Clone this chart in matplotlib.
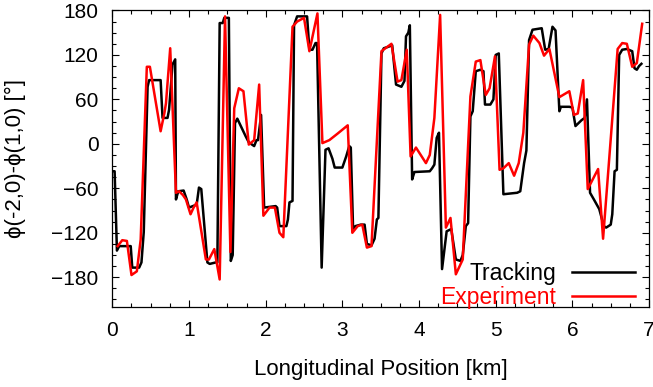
import matplotlib
matplotlib.use('Agg')
import matplotlib.pyplot as plt
from matplotlib.ticker import MultipleLocator

plt.rcParams['font.family'] = ['Liberation Sans', 'DejaVu Sans']

# Tracking (black)
track_km = [0.00, 0.03, 0.06, 0.09, 0.24, 0.26, 0.35, 0.38, 0.41, 0.46, 0.48, 0.63,
            0.655, 0.72, 0.74, 0.785, 0.82, 0.83, 0.86, 0.93, 0.97, 1.00, 1.05, 1.10,
            1.13, 1.16, 1.24, 1.27, 1.35, 1.37, 1.40, 1.44, 1.46, 1.52, 1.545, 1.57,
            1.60, 1.63, 1.74, 1.78, 1.85, 1.88, 1.90, 1.94, 1.98, 2.13, 2.15, 2.18,
            2.27, 2.29, 2.31, 2.35, 2.37, 2.41, 2.54, 2.57, 2.61, 2.65, 2.67, 2.73,
            2.78, 2.82, 2.87, 2.90, 3.00, 3.05, 3.09, 3.11, 3.14, 3.17, 3.24, 3.29,
            3.32, 3.38, 3.42, 3.45, 3.47, 3.51, 3.54, 3.60, 3.65, 3.70, 3.77, 3.81,
            3.83, 3.86, 3.88, 3.91, 3.94, 4.14, 4.17, 4.20, 4.23, 4.26, 4.30, 4.36,
            4.42, 4.48, 4.54, 4.57, 4.61, 4.64, 4.67, 4.70, 4.74, 4.80, 4.84, 4.86,
            4.93, 4.97, 5.00, 5.04, 5.10, 5.28, 5.32, 5.37, 5.40, 5.435, 5.48, 5.60,
            5.645, 5.69, 5.74, 5.78, 5.83, 5.85, 5.96, 6.00, 6.04, 6.08, 6.12, 6.16,
            6.19, 6.23, 6.28, 6.35, 6.41, 6.44, 6.50, 6.52, 6.55, 6.58, 6.61, 6.65,
            6.71, 6.78, 6.81, 6.84, 6.87, 6.90]
track_deg = [-37, -37, -144, -138, -138, -167, -167, -160, -119, 77, 86, 86,
             35, 35, 46, 107, 114, -75, -64, -63, -75, -86, -84, -82,
             -59, -61, -160, -162, -160, -160, 163, 163, 170, 170, -158, -150,
             28, 34, 10, 2, -3, 5, 5, 39, -86, -84, -86, -111,
             -111, -102, -79, -77, 160, 172, 172, 127, 127, 136, 136, -167,
             -8, -6, -20, -32, -32, -17, -3, -5, -115, -111, -109, -109,
             -135, -137, -128, -102, -100, 122, 129, 131, 133, 80, 77, 85,
             145, 150, 160, -48, -38, -37, -33, -28, 8, 15, -169, -118,
             -115, -156, -158, -150, -111, -107, 37, 44, 98, 100, 98, 53,
             53, 60, 120, 122, -68, -66, -64, -26, -9, 140, 154, 156,
             127, 128, 158, 153, 44, 50, 50, 49, 24, 28, 32, 35,
             60, -66, -75, -88, -111, -113, -109, -95, -37, -35, 120, 127,
             128, 125, 102, 100, 105, 108]

# Experiment (red)
exp_km = [0.07, 0.13, 0.19, 0.25, 0.32, 0.37, 0.45, 0.49, 0.63, 0.68, 0.70, 0.755,
          0.83, 0.87, 0.92, 0.96, 1.02, 1.06, 1.10, 1.22, 1.26, 1.33, 1.40, 1.47,
          1.54, 1.59, 1.65, 1.71, 1.78, 1.85, 1.915, 1.97, 2.05, 2.12, 2.18, 2.23,
          2.35, 2.41, 2.50, 2.57, 2.675, 2.74, 2.83, 2.94, 3.07, 3.13, 3.20, 3.26,
          3.32, 3.38, 3.51, 3.64, 3.72, 3.77, 3.84, 3.89, 3.96, 4.09, 4.14, 4.20,
          4.275, 4.35, 4.41, 4.48, 4.57, 4.67, 4.74, 4.80, 4.87, 4.92, 4.99, 5.05,
          5.10, 5.17, 5.24, 5.30, 5.36, 5.435, 5.49, 5.57, 5.63, 5.70, 5.83, 5.96,
          6.02, 6.07, 6.14, 6.20, 6.335, 6.40, 6.59, 6.65, 6.71, 6.78, 6.84, 6.91]
exp_deg = [-138, -130, -131, -177, -172, -129, 104, 104, 17, 42, 55, 129,
           -66, -64, -69, -75, -95, -86, -79, -156, -156, -142, -183, 172,
           -146, 48, 75, 71, -1, 5, 80, -97, -86, -86, -120, -126,
           158, 165, 170, 125, 176, 1, 5, 14, 25, -120, -111, -109,
           -140, -138, 125, 135, 84, 86, 127, -17, -5, -26, -15, 35,
           174, -113, -100, -176, -156, 64, 111, 113, 66, 75, 118, -35,
           -33, -26, -43, -26, 15, 134, 146, 136, 119, 128, 63, 71,
           39, 41, 86, -61, -34, -128, 128, 136, 135, 104, 109, 162]

fig = plt.figure(figsize=(6.53, 3.87), dpi=100)
ax = fig.add_axes([0.172, 0.207, 0.822, 0.766])

ax.plot(track_km, track_deg, color='black', lw=1.8, label='Tracking')
ax.plot(exp_km, exp_deg, color='red', lw=1.8, label='Experiment')

ax.set_xlim(0, 7)
ax.set_ylim(-220, 180)
ax.xaxis.set_major_locator(MultipleLocator(1))
ax.xaxis.set_minor_locator(MultipleLocator(0.25))
ax.yaxis.set_minor_locator(MultipleLocator(15))
ax.set_yticks([-180, -120, -60, 0, 60, 120, 180])
ax.tick_params(which='both', direction='in', top=True, right=True, labelsize=15, width=0.8)
ax.tick_params(which='major', length=5)
ax.tick_params(which='minor', length=3)
ax.tick_params(axis='x', which='major', pad=10)
ax.tick_params(axis='y', which='major', pad=10)
for s in ax.spines.values():
    s.set_linewidth(0.9)

ax.set_xlabel('Longitudinal Position [km]', fontsize=16, labelpad=14)
ax.set_ylabel('ϕ(-2,0)-ϕ(1,0) [°]', fontsize=16, labelpad=18)

ax.legend(loc='lower right', frameon=False, markerfirst=False, fontsize=16.5,
          handlelength=2.75, handletextpad=0.7, labelcolor='linecolor',
          borderaxespad=0.1, labelspacing=0.05, bbox_to_anchor=(0.995, -0.045))

fig.savefig('out.png', dpi=100)
